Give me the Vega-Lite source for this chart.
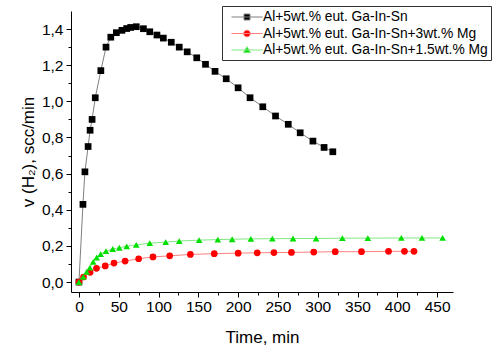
{
  "$schema": "https://vega.github.io/schema/vega-lite/v6.json",
  "width": 382,
  "height": 281,
  "padding": {"left": 71, "top": 11, "right": 44, "bottom": 54},
  "autosize": "none",
  "background": "white",
  "config": {"view": {"stroke": null}, "font": "Liberation Sans"},
  "data": {"values": [
    {"s": "Al+5wt.% eut. Ga-In-Sn", "t": 0, "v": 0},
    {"s": "Al+5wt.% eut. Ga-In-Sn", "t": 5, "v": 0.43},
    {"s": "Al+5wt.% eut. Ga-In-Sn", "t": 7.5, "v": 0.61},
    {"s": "Al+5wt.% eut. Ga-In-Sn", "t": 11.5, "v": 0.75},
    {"s": "Al+5wt.% eut. Ga-In-Sn", "t": 14, "v": 0.84},
    {"s": "Al+5wt.% eut. Ga-In-Sn", "t": 16.5, "v": 0.9},
    {"s": "Al+5wt.% eut. Ga-In-Sn", "t": 20.5, "v": 1.02},
    {"s": "Al+5wt.% eut. Ga-In-Sn", "t": 27.5, "v": 1.17},
    {"s": "Al+5wt.% eut. Ga-In-Sn", "t": 34, "v": 1.3},
    {"s": "Al+5wt.% eut. Ga-In-Sn", "t": 40, "v": 1.355},
    {"s": "Al+5wt.% eut. Ga-In-Sn", "t": 47, "v": 1.38},
    {"s": "Al+5wt.% eut. Ga-In-Sn", "t": 54, "v": 1.393},
    {"s": "Al+5wt.% eut. Ga-In-Sn", "t": 60, "v": 1.403},
    {"s": "Al+5wt.% eut. Ga-In-Sn", "t": 65, "v": 1.409},
    {"s": "Al+5wt.% eut. Ga-In-Sn", "t": 72, "v": 1.413},
    {"s": "Al+5wt.% eut. Ga-In-Sn", "t": 81, "v": 1.402},
    {"s": "Al+5wt.% eut. Ga-In-Sn", "t": 89, "v": 1.385},
    {"s": "Al+5wt.% eut. Ga-In-Sn", "t": 98, "v": 1.367},
    {"s": "Al+5wt.% eut. Ga-In-Sn", "t": 106, "v": 1.35},
    {"s": "Al+5wt.% eut. Ga-In-Sn", "t": 116, "v": 1.327},
    {"s": "Al+5wt.% eut. Ga-In-Sn", "t": 126, "v": 1.3},
    {"s": "Al+5wt.% eut. Ga-In-Sn", "t": 136, "v": 1.274},
    {"s": "Al+5wt.% eut. Ga-In-Sn", "t": 148, "v": 1.241},
    {"s": "Al+5wt.% eut. Ga-In-Sn", "t": 159, "v": 1.205},
    {"s": "Al+5wt.% eut. Ga-In-Sn", "t": 171, "v": 1.166},
    {"s": "Al+5wt.% eut. Ga-In-Sn", "t": 185, "v": 1.125},
    {"s": "Al+5wt.% eut. Ga-In-Sn", "t": 200, "v": 1.075},
    {"s": "Al+5wt.% eut. Ga-In-Sn", "t": 215, "v": 1.02},
    {"s": "Al+5wt.% eut. Ga-In-Sn", "t": 231, "v": 0.97},
    {"s": "Al+5wt.% eut. Ga-In-Sn", "t": 247, "v": 0.919},
    {"s": "Al+5wt.% eut. Ga-In-Sn", "t": 263, "v": 0.873},
    {"s": "Al+5wt.% eut. Ga-In-Sn", "t": 278, "v": 0.826},
    {"s": "Al+5wt.% eut. Ga-In-Sn", "t": 294, "v": 0.78},
    {"s": "Al+5wt.% eut. Ga-In-Sn", "t": 308, "v": 0.745},
    {"s": "Al+5wt.% eut. Ga-In-Sn", "t": 319, "v": 0.721},
    {"s": "Al+5wt.% eut. Ga-In-Sn+3wt.% Mg", "t": 0, "v": 0},
    {"s": "Al+5wt.% eut. Ga-In-Sn+3wt.% Mg", "t": 5.7, "v": 0.028},
    {"s": "Al+5wt.% eut. Ga-In-Sn+3wt.% Mg", "t": 14, "v": 0.054},
    {"s": "Al+5wt.% eut. Ga-In-Sn+3wt.% Mg", "t": 22, "v": 0.076},
    {"s": "Al+5wt.% eut. Ga-In-Sn+3wt.% Mg", "t": 33, "v": 0.089},
    {"s": "Al+5wt.% eut. Ga-In-Sn+3wt.% Mg", "t": 44, "v": 0.105},
    {"s": "Al+5wt.% eut. Ga-In-Sn+3wt.% Mg", "t": 58, "v": 0.116},
    {"s": "Al+5wt.% eut. Ga-In-Sn+3wt.% Mg", "t": 75, "v": 0.129},
    {"s": "Al+5wt.% eut. Ga-In-Sn+3wt.% Mg", "t": 93, "v": 0.139},
    {"s": "Al+5wt.% eut. Ga-In-Sn+3wt.% Mg", "t": 114, "v": 0.145},
    {"s": "Al+5wt.% eut. Ga-In-Sn+3wt.% Mg", "t": 140, "v": 0.153},
    {"s": "Al+5wt.% eut. Ga-In-Sn+3wt.% Mg", "t": 170, "v": 0.157},
    {"s": "Al+5wt.% eut. Ga-In-Sn+3wt.% Mg", "t": 200, "v": 0.16},
    {"s": "Al+5wt.% eut. Ga-In-Sn+3wt.% Mg", "t": 224, "v": 0.162},
    {"s": "Al+5wt.% eut. Ga-In-Sn+3wt.% Mg", "t": 245, "v": 0.163},
    {"s": "Al+5wt.% eut. Ga-In-Sn+3wt.% Mg", "t": 267, "v": 0.164},
    {"s": "Al+5wt.% eut. Ga-In-Sn+3wt.% Mg", "t": 295, "v": 0.166},
    {"s": "Al+5wt.% eut. Ga-In-Sn+3wt.% Mg", "t": 322, "v": 0.168},
    {"s": "Al+5wt.% eut. Ga-In-Sn+3wt.% Mg", "t": 355, "v": 0.168},
    {"s": "Al+5wt.% eut. Ga-In-Sn+3wt.% Mg", "t": 389, "v": 0.17},
    {"s": "Al+5wt.% eut. Ga-In-Sn+3wt.% Mg", "t": 409, "v": 0.17},
    {"s": "Al+5wt.% eut. Ga-In-Sn+3wt.% Mg", "t": 421, "v": 0.17},
    {"s": "Al+5wt.% eut. Ga-In-Sn+1.5wt.% Mg", "t": 0, "v": 0},
    {"s": "Al+5wt.% eut. Ga-In-Sn+1.5wt.% Mg", "t": 5.4, "v": 0.029},
    {"s": "Al+5wt.% eut. Ga-In-Sn+1.5wt.% Mg", "t": 9.7, "v": 0.056},
    {"s": "Al+5wt.% eut. Ga-In-Sn+1.5wt.% Mg", "t": 13.8, "v": 0.08},
    {"s": "Al+5wt.% eut. Ga-In-Sn+1.5wt.% Mg", "t": 17.9, "v": 0.112},
    {"s": "Al+5wt.% eut. Ga-In-Sn+1.5wt.% Mg", "t": 22.3, "v": 0.136},
    {"s": "Al+5wt.% eut. Ga-In-Sn+1.5wt.% Mg", "t": 27.3, "v": 0.155},
    {"s": "Al+5wt.% eut. Ga-In-Sn+1.5wt.% Mg", "t": 34, "v": 0.171},
    {"s": "Al+5wt.% eut. Ga-In-Sn+1.5wt.% Mg", "t": 42.4, "v": 0.183},
    {"s": "Al+5wt.% eut. Ga-In-Sn+1.5wt.% Mg", "t": 50.7, "v": 0.19},
    {"s": "Al+5wt.% eut. Ga-In-Sn+1.5wt.% Mg", "t": 60, "v": 0.198},
    {"s": "Al+5wt.% eut. Ga-In-Sn+1.5wt.% Mg", "t": 72, "v": 0.206},
    {"s": "Al+5wt.% eut. Ga-In-Sn+1.5wt.% Mg", "t": 89, "v": 0.215},
    {"s": "Al+5wt.% eut. Ga-In-Sn+1.5wt.% Mg", "t": 109, "v": 0.221},
    {"s": "Al+5wt.% eut. Ga-In-Sn+1.5wt.% Mg", "t": 126, "v": 0.227},
    {"s": "Al+5wt.% eut. Ga-In-Sn+1.5wt.% Mg", "t": 151, "v": 0.232},
    {"s": "Al+5wt.% eut. Ga-In-Sn+1.5wt.% Mg", "t": 174.5, "v": 0.235},
    {"s": "Al+5wt.% eut. Ga-In-Sn+1.5wt.% Mg", "t": 192.5, "v": 0.237},
    {"s": "Al+5wt.% eut. Ga-In-Sn+1.5wt.% Mg", "t": 216, "v": 0.239},
    {"s": "Al+5wt.% eut. Ga-In-Sn+1.5wt.% Mg", "t": 243, "v": 0.24},
    {"s": "Al+5wt.% eut. Ga-In-Sn+1.5wt.% Mg", "t": 269, "v": 0.241},
    {"s": "Al+5wt.% eut. Ga-In-Sn+1.5wt.% Mg", "t": 298, "v": 0.241},
    {"s": "Al+5wt.% eut. Ga-In-Sn+1.5wt.% Mg", "t": 331, "v": 0.243},
    {"s": "Al+5wt.% eut. Ga-In-Sn+1.5wt.% Mg", "t": 363, "v": 0.243},
    {"s": "Al+5wt.% eut. Ga-In-Sn+1.5wt.% Mg", "t": 405, "v": 0.244},
    {"s": "Al+5wt.% eut. Ga-In-Sn+1.5wt.% Mg", "t": 431, "v": 0.244},
    {"s": "Al+5wt.% eut. Ga-In-Sn+1.5wt.% Mg", "t": 457, "v": 0.244}
  ]},
  "encoding": {
    "x": {
      "field": "t", "type": "quantitative",
      "scale": {"domain": [-10, 470], "nice": false, "zero": false},
      "axis": {
        "title": "Time, min",
        "values": [0, 25, 50, 75, 100, 125, 150, 175, 200, 225, 250, 275, 300, 325, 350, 375, 400, 425, 450],
        "labelExpr": "datum.value % 50 === 0 ? datum.label : ''",
        "tickSize": {"condition": {"test": "datum.value % 50 !== 0", "value": 3}, "value": 5},
        "grid": false, "labelFlush": false, "labelOverlap": false,
        "domainColor": "black", "tickColor": "black", "labelColor": "black", "titleColor": "black",
        "labelFontSize": 15.5, "labelPadding": 2,
        "titleFontSize": 17, "titleFontWeight": "normal", "titlePadding": 15
      }
    },
    "y": {
      "field": "v", "type": "quantitative",
      "scale": {"domain": [-0.055, 1.5], "nice": false, "zero": false},
      "axis": {
        "title": "v (H₂), scc/min",
        "values": [0, 0.1, 0.2, 0.3, 0.4, 0.5, 0.6, 0.7, 0.8, 0.9, 1.0, 1.1, 1.2, 1.3, 1.4],
        "labelExpr": "round(datum.value * 10) % 2 === 0 ? replace(format(datum.value, '.1f'), '.', ',') : ''",
        "tickSize": {"condition": {"test": "round(datum.value * 10) % 2 !== 0", "value": 3}, "value": 5},
        "grid": false, "labelFlush": false, "labelOverlap": false,
        "domainColor": "black", "tickColor": "black", "labelColor": "black", "titleColor": "black",
        "labelFontSize": 15.5, "labelPadding": 3,
        "titleFontSize": 17, "titleFontWeight": "normal", "titlePadding": 4
      }
    }
  },
  "layer": [
    {
      "mark": {"type": "line", "strokeWidth": 1},
      "encoding": {
        "stroke": {
          "field": "s", "type": "nominal",
          "scale": {"domain": ["Al+5wt.% eut. Ga-In-Sn+1.5wt.% Mg", "Al+5wt.% eut. Ga-In-Sn+3wt.% Mg", "Al+5wt.% eut. Ga-In-Sn"], "range": ["#80e880", "#ff8080", "#808080"]},
          "legend": null
        },
        "order": {"field": "t", "type": "quantitative"}
      }
    },
    {
      "mark": {"type": "point", "filled": true, "opacity": 1, "size": 45},
      "encoding": {
        "shape": {
          "field": "s", "type": "nominal",
          "scale": {"domain": ["Al+5wt.% eut. Ga-In-Sn+3wt.% Mg", "Al+5wt.% eut. Ga-In-Sn", "Al+5wt.% eut. Ga-In-Sn+1.5wt.% Mg"], "range": ["circle", "square", "triangle-up"]},
          "legend": null
        },
        "color": {
          "field": "s", "type": "nominal",
          "scale": {"domain": ["Al+5wt.% eut. Ga-In-Sn", "Al+5wt.% eut. Ga-In-Sn+3wt.% Mg", "Al+5wt.% eut. Ga-In-Sn+1.5wt.% Mg"], "range": ["#000000", "#ff0000", "#00e000"]},
          "legend": {
            "title": null, "orient": "none", "legendX": 151, "legendY": -5,
            "strokeColor": "#333333", "fillColor": "white", "padding": 3,
            "symbolSize": 225, "symbolOffset": 14, "labelOffset": 8, "rowPadding": 1.5,
            "labelFontSize": 13.8, "labelColor": "black", "labelLimit": 400,
            "symbolStrokeWidth": 1, "symbolOpacity": 1,
            "encode": {"symbols": {"update": {
              "shape": {"signal": "datum.value === 'Al+5wt.% eut. Ga-In-Sn' ? 'M-2.07,0L2.07,0M-0.4,-0.4L0.4,-0.4L0.4,0.4L-0.4,0.4Z' : indexof(datum.value, '+3wt') >= 0 ? 'M-2.07,0L2.07,0M0.45,0A0.45,0.45,0,1,1,-0.45,0A0.45,0.45,0,1,1,0.45,0Z' : 'M-2.07,0L2.07,0M0,-0.45L0.47,0.35L-0.47,0.35Z'"},
              "stroke": {"signal": "datum.value === 'Al+5wt.% eut. Ga-In-Sn' ? '#808080' : indexof(datum.value, '+3wt') >= 0 ? '#ff8080' : '#80e880'"},
              "strokeWidth": {"value": 1}
            }}}
          }
        }
      }
    }
  ]
}
